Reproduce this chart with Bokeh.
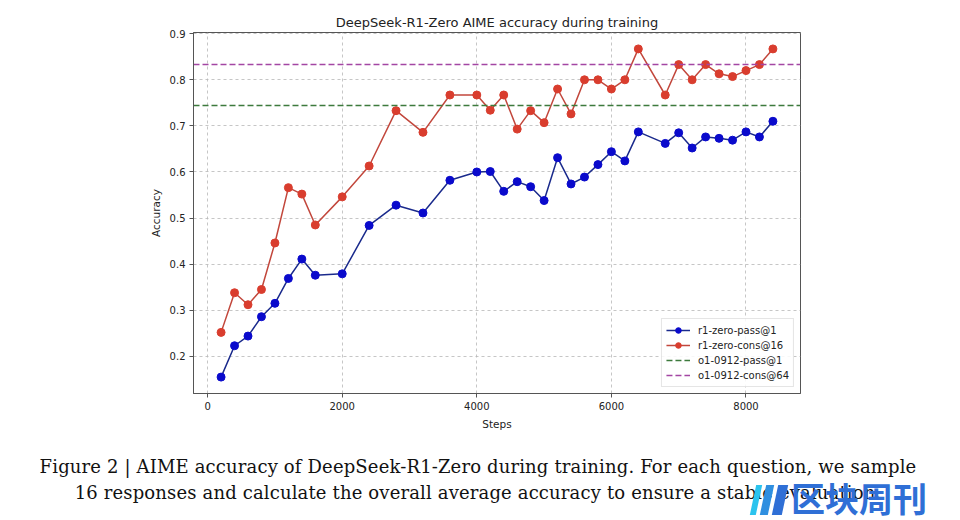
from bokeh.plotting import figure
from bokeh.models import Range1d, FixedTicker, Div
from bokeh.layouts import column
from bokeh.embed import file_html
from bokeh.resources import INLINE

title_text = "DeepSeek-R1-Zero AIME accuracy during training"
x_label = "Steps"
y_label = "Accuracy"

steps = [200, 400, 600, 800, 1000, 1200, 1400, 1600, 2000, 2400, 2800, 3200,
         3600, 4000, 4200, 4400, 4600, 4800, 5000, 5200, 5400, 5600, 5800,
         6000, 6200, 6400, 6800, 7000, 7200, 7400, 7600, 7800, 8000, 8200, 8400]
pass1 = [0.155, 0.223, 0.244, 0.286, 0.315, 0.369, 0.411, 0.376, 0.379, 0.484,
         0.528, 0.511, 0.582, 0.600, 0.601, 0.558, 0.579, 0.568, 0.538, 0.631,
         0.574, 0.589, 0.616, 0.644, 0.624, 0.687, 0.662, 0.685, 0.652, 0.676,
         0.673, 0.669, 0.687, 0.676, 0.710]
cons16 = [0.252, 0.338, 0.312, 0.345, 0.446, 0.566, 0.552, 0.485, 0.546, 0.613,
          0.733, 0.686, 0.767, 0.767, 0.734, 0.767, 0.693, 0.733, 0.707, 0.780,
          0.726, 0.800, 0.800, 0.780, 0.800, 0.867, 0.767, 0.833, 0.800, 0.833,
          0.813, 0.807, 0.820, 0.833, 0.867]
o1_pass1 = 0.744
o1_cons64 = 0.833

series_labels = ["r1-zero-pass@1", "r1-zero-cons@16", "o1-0912-pass@1", "o1-0912-cons@64"]
x_ticks = [0, 2000, 4000, 6000, 8000]
y_ticks = [0.2, 0.3, 0.4, 0.5, 0.6, 0.7, 0.8, 0.9]

caption_lines = [
    "Figure 2 | AIME accuracy of DeepSeek-R1-Zero during training. For each question, we sample",
    "16 responses and calculate the overall average accuracy to ensure a stable evaluation.",
]
watermark = "区块周刊"

FONT = "DejaVu Sans"

# matplotlib-like 5% auto margins
x_lo, x_hi = min(steps), max(steps)
x_pad = 0.05 * (x_hi - x_lo)
y_lo, y_hi = min(pass1 + cons16), max(pass1 + cons16)
y_pad = 0.05 * (y_hi - y_lo)
x_start, x_end = x_lo - x_pad, x_hi + x_pad

p = figure(width=952, height=440, output_backend="svg", toolbar_location=None,
           x_range=Range1d(x_start, x_end), y_range=Range1d(y_lo - y_pad, y_hi + y_pad),
           title=title_text,
           min_border_left=193, min_border_right=152,
           min_border_top=32, min_border_bottom=47)

p.title.align = "center"
p.title.text_font = FONT
p.title.text_font_size = "13px"
p.title.text_font_style = "normal"
p.title.text_color = "#222222"
p.title.standoff = 6

p.xaxis.axis_label = x_label
p.yaxis.axis_label = y_label
for ax in (p.xaxis, p.yaxis):
    ax.axis_label_text_font = FONT
    ax.axis_label_text_font_size = "10.5px"
    ax.axis_label_text_font_style = "normal"
    ax.axis_label_text_color = "#222222"
    ax.axis_label_standoff = 5
    ax.major_label_text_font = FONT
    ax.major_label_text_font_size = "10px"
    ax.major_label_text_color = "#222222"
    ax.major_label_standoff = 4
    ax.axis_line_color = "#555555"
    ax.major_tick_line_color = "#555555"
    ax.major_tick_in = 0
    ax.major_tick_out = 4
    ax.minor_tick_line_color = None
p.xaxis.ticker = FixedTicker(ticks=x_ticks)
p.yaxis.ticker = FixedTicker(ticks=y_ticks)

p.outline_line_color = "#555555"
p.grid.grid_line_color = "#b8b8b8"
p.grid.grid_line_dash = "3 3"
p.grid.grid_line_alpha = 0.8

blue_line, blue_mark = "#1a2a8c", "#0a0acc"
red_line, red_mark = "#c2473c", "#d93d2e"
green = "#3d7a3d"
purple = "#a346a3"

p.line(steps, pass1, line_color=blue_line, line_width=1.5, legend_label=series_labels[0])
p.scatter(steps, pass1, size=8, fill_color=blue_mark, line_color=blue_mark, legend_label=series_labels[0])
p.line(steps, cons16, line_color=red_line, line_width=1.5, legend_label=series_labels[1])
p.scatter(steps, cons16, size=8, fill_color=red_mark, line_color=red_mark, legend_label=series_labels[1])

# horizontal reference lines spanning the full x range
p.line([x_start, x_end], [o1_pass1, o1_pass1], line_color=green, line_dash="6 3",
       line_width=1.5, legend_label=series_labels[2])
p.line([x_start, x_end], [o1_cons64, o1_cons64], line_color=purple, line_dash="6 3",
       line_width=1.5, legend_label=series_labels[3])

lg = p.legend[0]
lg.location = "bottom_right"
lg.margin = 6
lg.padding = 4
lg.spacing = 1
lg.glyph_width = 24
lg.glyph_height = 14
lg.label_height = 14
lg.label_standoff = 8
lg.label_text_font = FONT
lg.label_text_font_size = "10px"
lg.label_text_color = "#222222"
lg.border_line_color = "#cccccc"
lg.background_fill_alpha = 0.85

cap_style = ("position:absolute; left:-3px; width:952px; text-align:center; "
             "font-family:'DejaVu Serif'; font-size:18px; letter-spacing:0.15px; "
             "line-height:20px; color:#111111; white-space:nowrap;")
bar = "position:absolute; top:40px; height:30px; transform:skewX(-12deg);"
html = (
    '<div style="position:relative; width:952px; height:76px;">'
    f'<div style="{cap_style} top:12px;">{caption_lines[0]}</div>'
    f'<div style="{cap_style} top:38px;">{caption_lines[1]}</div>'
    f'<div style="{bar} left:748px; width:6px; background:#2bc3ee;"></div>'
    f'<div style="{bar} left:758px; width:8px; background:#2f8fe0;"></div>'
    f'<div style="{bar} left:770px; width:10px; background:#2f6fd6;"></div>'
    '<div style="position:absolute; left:786px; top:33px; font-family:\'Noto Sans CJK SC\'; '
    'font-size:34px; font-weight:bold; line-height:40px; color:#2f6fd6; white-space:nowrap;">'
    f'{watermark}</div>'
    '</div>'
)
cap = Div(text=html, width=952, height=76)

layout = column(p, cap)
open("out.html", "w").write(file_html(layout, INLINE))
